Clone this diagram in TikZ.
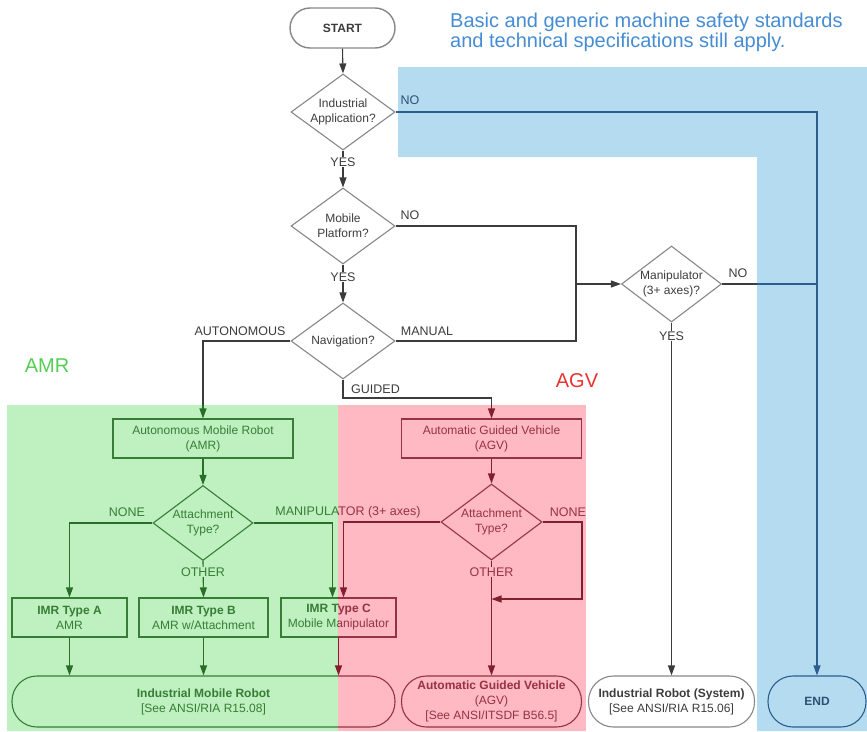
\documentclass[tikz,border=0pt]{standalone}
\usepackage{fontspec}
\setmainfont{Liberation Sans}
\usetikzlibrary{shapes.geometric,arrows.meta}
\definecolor{gshape}{RGB}{135,135,135}
\definecolor{gline}{RGB}{60,60,60}
\definecolor{gtext}{RGB}{60,60,60}
\definecolor{gnfill}{RGB}{191,240,191}
\definecolor{gnline}{RGB}{40,110,40}
\definecolor{gntext}{RGB}{55,125,55}
\definecolor{rdfill}{RGB}{255,185,194}
\definecolor{rdline}{RGB}{130,30,45}
\definecolor{rdtext}{RGB}{150,50,65}
\definecolor{blfill}{RGB}{181,219,241}
\definecolor{blline}{RGB}{43,94,140}
\definecolor{bltext}{RGB}{45,80,115}
\definecolor{headblue}{RGB}{70,140,210}
\definecolor{amrgreen}{RGB}{85,205,85}
\definecolor{agvred}{RGB}{232,50,50}
\newcommand\smallfnt{\fontsize{12}{15}\selectfont}
\newcommand\lblfnt{\fontsize{12.5}{15}\selectfont}
\tikzset{
  decision/.style={diamond, aspect=1.37, inner sep=0pt, minimum width=104pt, minimum height=76pt, align=center, font=\smallfnt, line width=1.1pt},
  procbox/.style={rectangle, inner sep=0pt, minimum height=39pt, align=center, font=\smallfnt, line width=1.1pt},
  termbox/.style={rectangle, rounded corners=25pt, inner sep=0pt, minimum height=51pt, align=center, font=\smallfnt, line width=1.1pt},
  conn/.style={line width=1.1pt, -{Triangle[length=10pt,width=7pt]}},
  plainline/.style={line width=1.1pt},
  lbl/.style={font=\lblfnt, inner sep=1pt},
}
\newcommand\typecparts[3]{%
  \node[procbox, draw=#1, text=#2, minimum width=115pt] (#3typec) at (338.5,617.5) {\textbf{IMR Type C}\\Mobile Manipulator};
  \node[termbox, draw=#1, text=#2, minimum width=383pt] (#3imr) at (203.5,701.5) {\textbf{Industrial Mobile Robot}\\{[See ANSI/RIA R15.08]}};
  \node[lbl, text=#2] at (348,512) {MANIPULATOR (3+ axes)};
}
\begin{document}
\begin{tikzpicture}[x=1pt,y=-1pt]
\useasboundingbox (0,0) rectangle (867,731);
% regions
\fill[blfill] (398,67) -- (867,67) -- (867,731) -- (757,731) -- (757,157) -- (398,157) -- cycle;
\fill[gnfill] (7,405) rectangle (338,731);
\fill[rdfill] (338,405) rectangle (586,731);
% header and region titles
\node[anchor=base west, font=\fontsize{20}{20}\selectfont, text=headblue, inner sep=0pt] (head1) at (450,27) {Basic and generic machine safety standards};
\node[anchor=base west, font=\fontsize{20}{20}\selectfont, text=headblue, inner sep=0pt] (head2) at (450,47) {and technical specifications still apply.};
\node[font=\fontsize{20}{20}\selectfont, text=amrgreen] (amrtitle) at (47,366) {AMR};
\node[font=\fontsize{20}{20}\selectfont, text=agvred] (agvtitle) at (577,381) {AGV};
% upper flow
\node[termbox, draw=gshape, text=gtext, minimum width=105pt, minimum height=40pt, rounded corners=20pt, line width=1.4pt, font=\bfseries\smallfnt] (start) at (342.5,28) {START};
\node[decision, draw=gshape, text=gtext] (ia) at (343,112) {Industrial\\Application?};
\node[decision, draw=gshape, text=gtext] (mp) at (343,226) {Mobile\\Platform?};
\node[decision, draw=gshape, text=gtext] (nav) at (343,341) {Navigation?};
\node[decision, draw=gshape, text=gtext, minimum width=100pt] (man) at (671.5,284) {Manipulator\\(3+ axes)?};
% AMR branch
\node[procbox, draw=gntext, text=gntext, minimum width=180pt] (amr) at (203,438.5) {Autonomous Mobile Robot\\(AMR)};
\node[decision, draw=gntext, text=gntext, minimum width=100pt, minimum height=75pt] (att1) at (203,523) {Attachment\\Type?};
\node[procbox, draw=gntext, text=gntext, minimum width=115pt] (ta) at (69.5,617.5) {\textbf{IMR Type A}\\AMR};
\node[procbox, draw=gntext, text=gntext, minimum width=129pt] (tb) at (203.5,617.5) {\textbf{IMR Type B}\\AMR w/Attachment};
\begin{scope}
  \clip (7,405) rectangle (338,731);
  \typecparts{gntext}{gntext}{}
\end{scope}
\begin{scope}
  \clip (338,405) rectangle (586,731);
  \typecparts{rdtext}{rdtext}{R}
\end{scope}
% AGV branch
\node[procbox, draw=rdtext, text=rdtext, minimum width=180pt] (agv) at (491.5,438.5) {Automatic Guided Vehicle\\(AGV)};
\node[decision, draw=rdtext, text=rdtext, minimum width=101pt, minimum height=76pt] (att2) at (491.5,522) {Attachment\\Type?};
\node[termbox, draw=rdtext, text=rdtext, minimum width=180pt] (agvt) at (491.5,701.5) {\textbf{Automatic Guided Vehicle}\\(AGV)\\{[See ANSI/ITSDF B56.5]}};
% right column
\node[termbox, draw=gshape, text=gtext, minimum width=166pt] (irt) at (671.5,701.5) {\textbf{Industrial Robot (System)}\\{[See ANSI/RIA R15.06]}};
\node[termbox, draw=blline, text=bltext, minimum width=98pt, font=\bfseries\smallfnt] (end) at (817,701.5) {END};
% coordinates
\coordinate (jx) at (576,284);
\coordinate (amrin) at (203,405);
\coordinate (gbend) at (491.5,398);
\coordinate (agvin) at (491.5,405);
\coordinate (bb) at (757,284);
\coordinate (nn) at (582,599);
% connectors upper
\draw[conn, gline] (start.south) -- (ia.north);
\draw[conn, gline] (ia.south) -- (mp.north);
\draw[conn, gline] (mp.south) -- (nav.north);
\draw[plainline, gline] (mp.east) -| (jx) |- (nav.east);
\draw[conn, gline] (jx) -- (man.west);
\draw[plainline, gline] (nav.west) -| (amrin);
\draw[conn, gnline] (amrin) -- (amr.north);
\draw[plainline, gline] (nav.south) |- (gbend) -- (agvin);
\draw[conn, rdline] (agvin) -- (agv.north);
\draw[conn, gline] (man.south) -- (irt.north);
\draw[plainline, gline] (man.east) -- (bb);
\draw[plainline, blline] (bb) -- (end.north |- bb);
\draw[conn, blline] (ia.east) -| (end.north);
% AMR connectors
\draw[conn, gnline] (amr.south) -- (att1.north);
\draw[conn, gnline] (att1.west) -| (ta.north);
\draw[conn, gnline] (att1.south) -- (tb.north);
\draw[conn, gnline] (att1.east) -| ([xshift=-6pt]typec.north);
\draw[conn, gnline] (ta.south) -- (ta.south |- imr.north);
\draw[conn, gnline] (tb.south) -- (tb.south |- imr.north);
\draw[conn, rdline] (typec.south) -- (typec.south |- imr.north);
% AGV connectors
\draw[conn, rdline] (att2.west) -| ([xshift=5pt]typec.north);
\draw[conn, rdline] (agv.south) -- (att2.north);
\draw[conn, rdline] (att2.south) -- (agvt.north);
\draw[conn, rdline] (att2.east) -| (nn) -- (att2.south |- nn);
% labels
\node[lbl, text=bltext] (l1) at (410,100) {NO};
\node[lbl, text=gtext, fill=white] (l2) at (343,162) {YES};
\node[lbl, text=gtext] (l3) at (410,215) {NO};
\node[lbl, text=gtext, fill=white] (l4) at (343,277) {YES};
\node[lbl, text=gtext] (l5) at (240,331) {AUTONOMOUS};
\node[lbl, text=gtext] (l6) at (427,331) {MANUAL};
\node[lbl, text=gtext] (l7) at (375.5,389) {GUIDED};
\node[lbl, text=gtext] (l8) at (738,273) {NO};
\node[lbl, text=gtext, fill=white] (l9) at (671.5,336) {YES};
\node[lbl, text=gntext] (l10) at (127,512) {NONE};
\node[lbl, text=gntext, fill=gnfill] (l11) at (203,572) {OTHER};
\node[lbl, text=rdtext] (l12) at (568,512) {NONE};
\node[lbl, text=rdtext, fill=rdfill] (l13) at (491.5,572) {OTHER};
\end{tikzpicture}
\end{document}
